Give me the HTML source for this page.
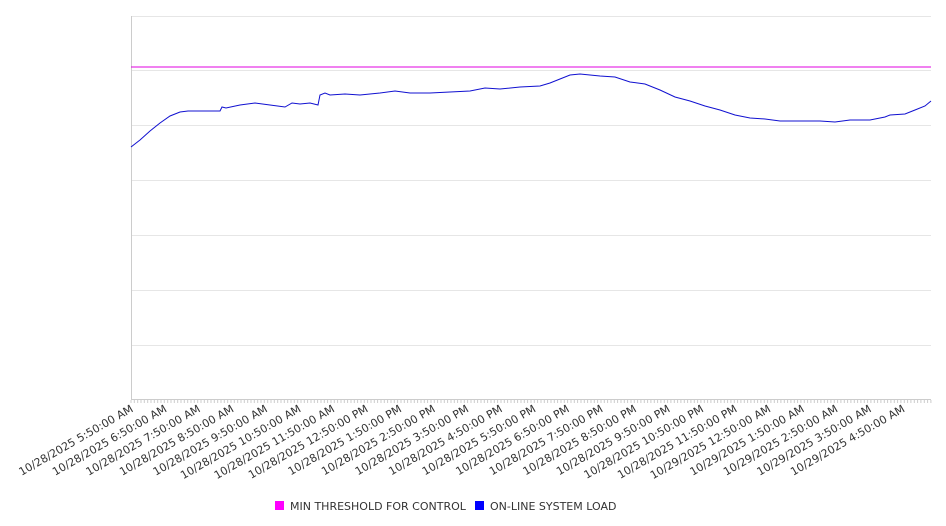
<!DOCTYPE html>
<html><head><meta charset="utf-8"><style>
body{margin:0;background:#fff;}
svg{display:block;font-family:"DejaVu Sans","Liberation Sans",sans-serif;}
</style></head><body>
<svg width="946" height="526" viewBox="0 0 946 526">
<g stroke="#e6e6e6" stroke-width="1">
<line x1="131" y1="16.5" x2="931" y2="16.5"/>
<line x1="131" y1="70.5" x2="931" y2="70.5"/>
<line x1="131" y1="125.5" x2="931" y2="125.5"/>
<line x1="131" y1="180.5" x2="931" y2="180.5"/>
<line x1="131" y1="235.5" x2="931" y2="235.5"/>
<line x1="131" y1="290.5" x2="931" y2="290.5"/>
<line x1="131" y1="345.5" x2="931" y2="345.5"/>
</g>
<line x1="131.5" y1="16" x2="131.5" y2="400" stroke="#ccc"/>
<line x1="131" y1="399.5" x2="931" y2="399.5" stroke="#ccc"/>
<g id="ticks" stroke="#ccc"></g>
<line x1="131" y1="67" x2="931" y2="67" stroke="#e000e0" stroke-width="1"/>
<polyline fill="none" stroke="#1010d0" stroke-width="1" points="131,147 140,140 150,131 160,123 170,116 180,112 188,111 200,111 220,111 222,107 226,108 240,105 255,103 270,105 285,107 292,103 300,104 310,103 318,105 320,95 325,93 330,95 345,94 360,95 380,93 395,91 410,93 430,93 450,92 470,91 485,88 500,89 520,87 540,86 550,83 560,79 570,75 580,74 590,75 600,76 615,77 630,82 645,84 660,90 675,97 690,101 705,106 720,110 735,115 750,118 765,119 780,121 800,121 820,121 835,122 850,120 870,120 885,117 890,115 905,114 915,110 925,106 931,101"/>
<g id="labels" font-size="11" fill="#333"></g>
<rect x="275" y="501" width="9" height="9" fill="#ff00ff"/>
<text x="290" y="510" font-size="11" fill="#333">MIN THRESHOLD FOR CONTROL</text>
<rect x="475" y="501" width="9" height="9" fill="#0000ff"/>
<text x="490" y="510" font-size="11" fill="#333">ON-LINE SYSTEM LOAD</text>
</svg>
<script>
var ns="http://www.w3.org/2000/svg";
var t=document.getElementById("ticks");
for(var x=131;x<=931;x+=3.333){var l=document.createElementNS(ns,"line");l.setAttribute("x1",x.toFixed(1));l.setAttribute("x2",x.toFixed(1));l.setAttribute("y1",400);l.setAttribute("y2",403);t.appendChild(l);}
var g=document.getElementById("labels");
var names=["10/28/2025 5:50:00 AM","10/28/2025 6:50:00 AM","10/28/2025 7:50:00 AM","10/28/2025 8:50:00 AM","10/28/2025 9:50:00 AM","10/28/2025 10:50:00 AM","10/28/2025 11:50:00 AM","10/28/2025 12:50:00 PM","10/28/2025 1:50:00 PM","10/28/2025 2:50:00 PM","10/28/2025 3:50:00 PM","10/28/2025 4:50:00 PM","10/28/2025 5:50:00 PM","10/28/2025 6:50:00 PM","10/28/2025 7:50:00 PM","10/28/2025 8:50:00 PM","10/28/2025 9:50:00 PM","10/28/2025 10:50:00 PM","10/28/2025 11:50:00 PM","10/29/2025 12:50:00 AM","10/29/2025 1:50:00 AM","10/29/2025 2:50:00 AM","10/29/2025 3:50:00 AM","10/29/2025 4:50:00 AM"];
for(var i=0;i<names.length;i++){var x=134+i*33.55;var e=document.createElementNS(ns,"text");e.setAttribute("text-anchor","end");e.setAttribute("transform","translate("+x+",411) rotate(-30)");e.textContent=names[i];g.appendChild(e);}
</script>
</body></html>
